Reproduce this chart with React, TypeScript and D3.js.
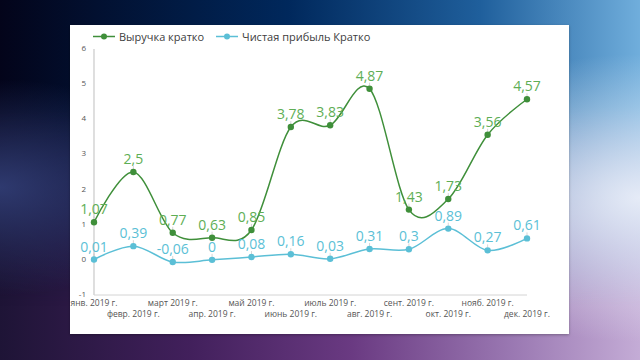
import React from 'react';
import * as d3 from 'd3';

const months = [
  'янв. 2019 г.', 'февр. 2019 г.', 'март 2019 г.', 'апр. 2019 г.', 'май 2019 г.', 'июнь 2019 г.',
  'июль 2019 г.', 'авг. 2019 г.', 'сент. 2019 г.', 'окт. 2019 г.', 'нояб. 2019 г.', 'дек. 2019 г.',
];
const revenue = [1.07, 2.5, 0.77, 0.63, 0.85, 3.78, 3.83, 4.87, 1.43, 1.73, 3.56, 4.57];
const profit = [0.01, 0.39, -0.06, 0, 0.08, 0.16, 0.03, 0.31, 0.3, 0.89, 0.27, 0.61];
const yTicks = [-1, 0, 1, 2, 3, 4, 5, 6];

const seriesNames = ['Выручка кратко', 'Чистая прибыль Кратко'];
const green = '#3f8f3a';
const greenLabel = '#5eae55';
const blue = '#5bbfd6';

const W = 640;
const H = 360;
const FONT = "'Open Sans', 'Noto Sans', sans-serif";

const fmt = (v: number) => String(v).replace('.', ',');

export default function App() {
  const x = d3.scalePoint<string>().domain(months).range([94, 527]);
  const y = d3.scaleLinear().domain([-1, 6]).range([295, 49]);

  // сглаживание как в Excel
  const line = d3.line<number>()
    .x((_, i) => x(months[i]) as number)
    .y((d) => y(d))
    .curve(d3.curveCardinal.tension(0));

  const series = [
    { name: seriesNames[0], values: revenue, color: green, label: greenLabel },
    { name: seriesNames[1], values: profit, color: blue, label: blue },
  ];

  return (
    <svg width={W} height={H} style={{ position: 'absolute', left: 0, top: 0 }} fontFamily={FONT}>
      <defs>
        <linearGradient id="bgBottom" x1="0" y1="0" x2="1" y2="0">
          <stop offset="0" stopColor="#1e1436" />
          <stop offset="0.3" stopColor="#42205c" />
          <stop offset="0.55" stopColor="#6a3a82" />
          <stop offset="0.8" stopColor="#9a78b2" />
          <stop offset="1" stopColor="#c4acd6" />
        </linearGradient>
        <linearGradient id="bgTop" x1="0" y1="0" x2="1" y2="0">
          <stop offset="0" stopColor="#03041a" />
          <stop offset="0.45" stopColor="#00285c" />
          <stop offset="0.75" stopColor="#1f5f9c" />
          <stop offset="1" stopColor="#70aedc" />
        </linearGradient>
        <linearGradient id="fadeV" x1="0" y1="0" x2="0" y2="1">
          <stop offset="0" stopColor="#fff" stopOpacity="1" />
          <stop offset="0.3" stopColor="#fff" stopOpacity="1" />
          <stop offset="0.85" stopColor="#fff" stopOpacity="0" />
        </linearGradient>
        <mask id="topMask">
          <rect width={W} height={H} fill="url(#fadeV)" />
        </mask>
        <radialGradient id="bgLight" cx="1" cy="0.55" r="0.4">
          <stop offset="0" stopColor="#eef2fa" stopOpacity="0.9" />
          <stop offset="1" stopColor="#eef2fa" stopOpacity="0" />
        </radialGradient>
        <radialGradient id="bgLeft" cx="0" cy="0.52" r="0.3">
          <stop offset="0" stopColor="#34427c" stopOpacity="0.85" />
          <stop offset="1" stopColor="#34427c" stopOpacity="0" />
        </radialGradient>
        <filter id="shadow" x="-5%" y="-5%" width="110%" height="110%">
          <feDropShadow dx="0" dy="1" stdDeviation="1.5" floodOpacity="0.3" />
        </filter>
      </defs>
      <rect width={W} height={H} fill="url(#bgBottom)" />
      <rect width={W} height={H} fill="url(#bgTop)" mask="url(#topMask)" />
      <rect width={W} height={H} fill="url(#bgLight)" />
      <rect width={W} height={H} fill="url(#bgLeft)" />

      <rect x={70} y={25} width={499} height={309} fill="#ffffff" filter="url(#shadow)" />

      {/* легенда */}
      <g fontSize={11} fill="#404040">
        <line x1={93} x2={115} y1={36.5} y2={36.5} stroke={green} strokeWidth={1.5} />
        <circle cx={104} cy={36.5} r={3} fill={green} />
        <text x={119} y={40.5}>{seriesNames[0]}</text>
        <line x1={216} x2={238} y1={36.5} y2={36.5} stroke={blue} strokeWidth={1.5} />
        <circle cx={227} cy={36.5} r={3} fill={blue} />
        <text x={242} y={40.5}>{seriesNames[1]}</text>
      </g>

      {/* оси */}
      <line x1={94} x2={94} y1={y(6)} y2={y(-1)} stroke="#c9c9c9" strokeWidth={1.2} />
      <line x1={94} x2={527} y1={y(-1)} y2={y(-1)} stroke="#d4d4d4" strokeWidth={1} />
      <g fontSize={8} fill="#555" textAnchor="end">
        {yTicks.map((t) => (
          <text key={t} x={86} y={y(t) + 2}>{t}</text>
        ))}
      </g>
      <g fontSize={8.5} fill="#555" textAnchor="middle">
        {months.map((m, i) => (
          <text key={m} x={x(m)} y={i % 2 === 0 ? 306 : 317}>{m}</text>
        ))}
      </g>

      {series.map((s) => (
        <g key={s.name}>
          <path d={line(s.values) || ''} fill="none" stroke={s.color} strokeWidth={1.5} />
          {s.values.map((v, i) => (
            <g key={i}>
              <line x1={x(months[i])} x2={x(months[i])} y1={y(v) - 3} y2={y(v) - 6} stroke="#bbb" strokeWidth={0.6} />
              <circle cx={x(months[i])} cy={y(v)} r={3.2} fill={s.color} />
              <text x={x(months[i])} y={y(v) - 8} textAnchor="middle" fontSize={14} fill={s.label}>{fmt(v)}</text>
            </g>
          ))}
        </g>
      ))}
    </svg>
  );
}
